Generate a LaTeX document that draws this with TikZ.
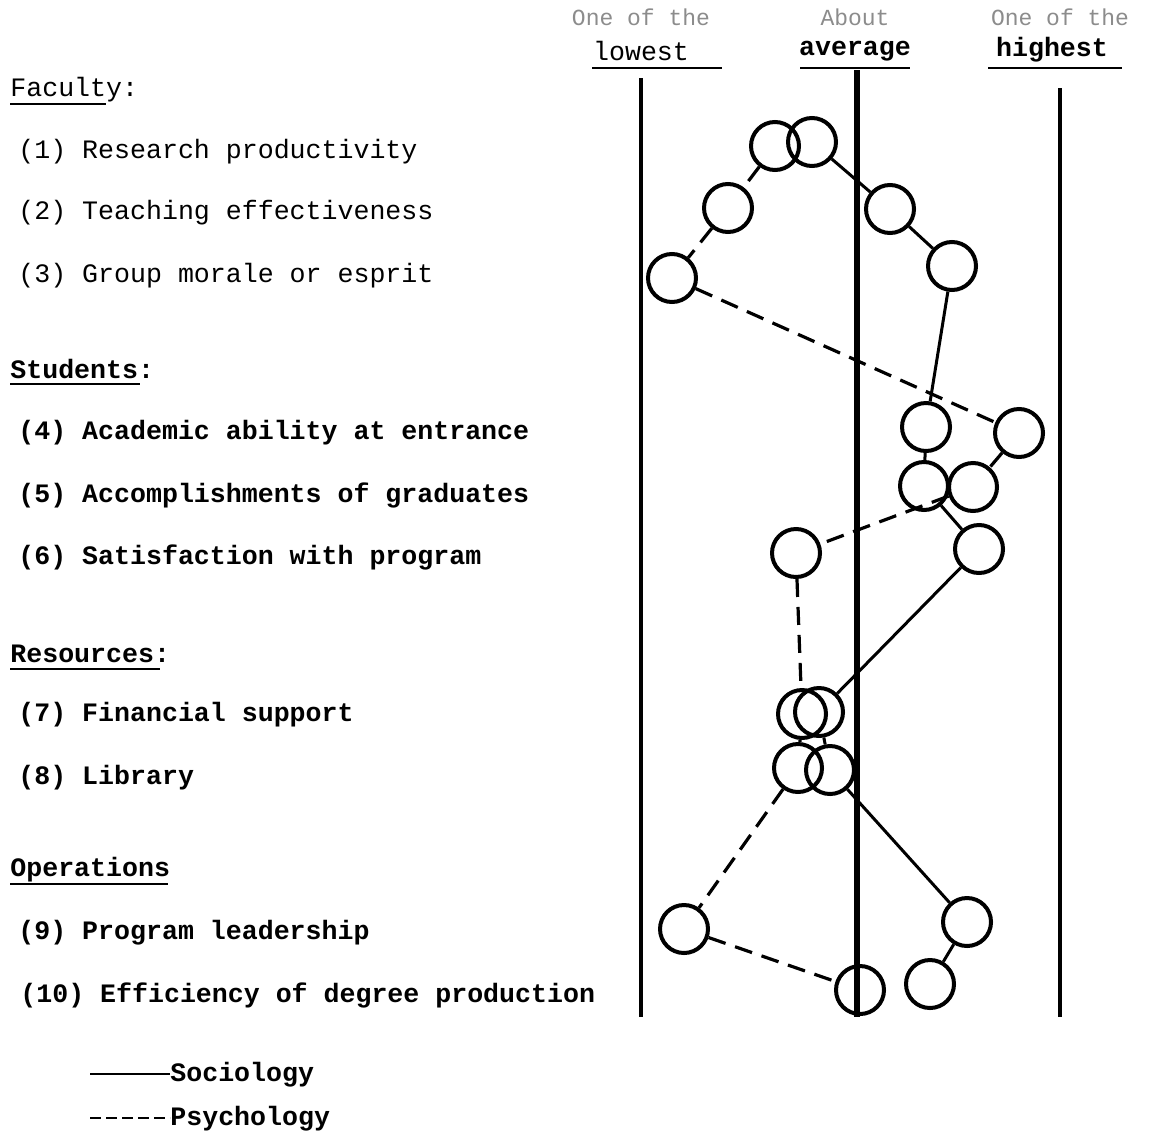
\documentclass[tikz,border=0pt]{standalone}
\usepackage{fontspec}
\setmonofont{Liberation Mono}
\begin{document}
\begin{tikzpicture}[x=0.5pt,y=-0.5pt,
  txt/.style={anchor=west,inner sep=0pt,font=\ttfamily\fontsize{13.3}{16}\selectfont},
  txtb/.style={txt,font=\ttfamily\bfseries\fontsize{13.3}{16}\selectfont},
  hdr/.style={inner sep=0pt,font=\ttfamily\fontsize{13.3}{16}\selectfont},
  hdrb/.style={hdr,font=\ttfamily\bfseries\fontsize{13.3}{16}\selectfont},
  faint/.style={inner sep=0pt,text=black!45,font=\ttfamily\fontsize{11.5}{14}\selectfont},
  uline/.style={line width=1pt},
  axis/.style={line width=1.7pt},
  avgaxis/.style={line width=3pt},
  pt/.style={circle,draw,line width=2pt,minimum size=24pt,inner sep=0pt},
  soc/.style={line width=1.5pt},
  psy/.style={line width=1.6pt,dash pattern=on 9pt off 5pt}
]
\fill[white] (0,0) rectangle (1155,1135);
\useasboundingbox (0,0) rectangle (1155,1135);

% header
\node[faint] (h1a) at (641,17) {One of the};
\node[faint] (h2a) at (855,17) {About};
\node[faint] (h3a) at (1060,17) {One of the};
\node[hdr] (h1) at (641,51) {lowest};
\node[hdrb] (h2) at (855,51) {average};
\node[hdrb] (h3) at (1052,50) {highest};
\draw[uline] (592,68) -- (722,68);
\draw[uline] (800,68) -- (910,68);
\draw[uline] (988,68) -- (1122,68);

% axes
\coordinate (l1) at (641,78); \coordinate (l2) at (641,1017);
\coordinate (a1) at (857,70); \coordinate (a2) at (857,1017);
\coordinate (r1) at (1060,88); \coordinate (r2) at (1060,1017);
\draw[axis] (l1) -- (l2);
\draw[avgaxis] (a1) -- (a2);
\draw[axis] (r1) -- (r2);

% left labels
\node[txt] (fac) at (10,90) {Faculty:};
\draw[uline] (10,104) -- (106,104);
\node[txt] (t1) at (18,152) {(1) Research productivity};
\node[txt] (t2) at (18,213) {(2) Teaching effectiveness};
\node[txt] (t3) at (18,276) {(3) Group morale or esprit};
\node[txtb] (stu) at (10,369) {Students:};
\draw[uline] (10,384) -- (140,384);
\node[txtb] (t4) at (18,433) {(4) Academic ability at entrance};
\node[txtb] (t5) at (18,495) {(5) Accomplishments of graduates};
\node[txtb] (t6) at (18,557) {(6) Satisfaction with program};
\node[txtb] (res) at (10,654) {Resources:};
\draw[uline] (10,669) -- (160,669);
\node[txtb] (t7) at (18,715) {(7) Financial support};
\node[txtb] (t8) at (18,778) {(8) Library};
\node[txtb] (ops) at (10,870) {Operations};
\draw[uline] (10,884) -- (168,884);
\node[txtb] (t9) at (18,933) {(9) Program leadership};
\node[txtb] (t10) at (20,995) {(10) Efficiency of degree production};

% legend
\coordinate (ls1) at (90,1074); \coordinate (ls2) at (170,1074);
\coordinate (lp1) at (90,1118); \coordinate (lp2) at (170,1118);
\draw[line width=1.3pt] (ls1) -- (ls2);
\draw[line width=1.3pt,dash pattern=on 5.5pt off 2.5pt] (lp1) -- (lp2);
\node[txtb] (legs) at (170,1075) {Sociology};
\node[txtb] (legp) at (170,1119) {Psychology};

% Sociology points
\node[pt] (s1) at (812,142) {};
\node[pt] (s2) at (890,209) {};
\node[pt] (s3) at (952,266) {};
\node[pt] (s4) at (926,427) {};
\node[pt] (s5) at (924,486) {};
\node[pt] (s6) at (979,549) {};
\node[pt] (s7) at (819,712) {};
\node[pt] (s8) at (830,770) {};
\node[pt] (s9) at (967,922) {};
\node[pt] (s10) at (930,984) {};
% Psychology points
\node[pt] (p1) at (775,146) {};
\node[pt] (p2) at (728,208) {};
\node[pt] (p3) at (672,278) {};
\node[pt] (p4) at (1019,433) {};
\node[pt] (p5) at (973,487) {};
\node[pt] (p6) at (796,553) {};
\node[pt] (p7) at (802,714) {};
\node[pt] (p8) at (798,768) {};
\node[pt] (p9) at (684,929) {};
\node[pt] (p10) at (860,990) {};

\draw[soc] (s1) -- (s2) -- (s3) -- (s4) -- (s5) -- (s6) -- (s7) -- (s8) -- (s9) -- (s10);
\draw[psy] (p1) -- (p2);
\draw[psy] (p2) -- (p3);
\draw[psy] (p3) -- (p4);
\draw[psy] (p4) -- (p5);
\draw[psy] (p5) -- (p6);
\draw[psy] (p6) -- (p7);
\draw[psy] (p7) -- (p8);
\draw[psy] (p8) -- (p9);
\draw[psy] (p9) -- (p10);
\end{tikzpicture}
\end{document}
